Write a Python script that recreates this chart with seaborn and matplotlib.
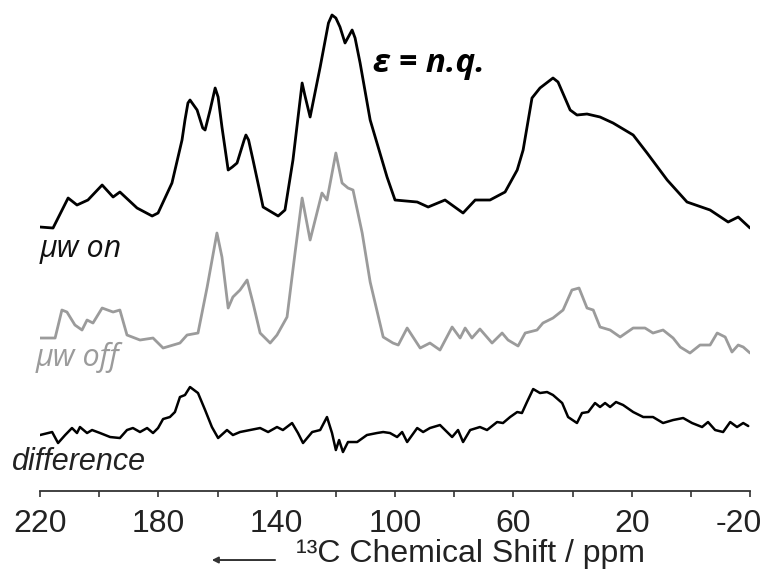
# Stacked 13C DNP spectra: microwave on / off / difference
import numpy as np
import matplotlib
matplotlib.use("Agg")
import matplotlib.pyplot as plt
import matplotlib.transforms as mtransforms
from matplotlib.ticker import MultipleLocator
import seaborn as sns

# ---- data (ppm, intensity above each trace's baseline) ----
on_ppm = [220.0, 215.6, 210.5, 207.5, 203.8, 199.0, 195.3, 193.0, 187.2, 182.1,
          180.1, 175.4, 172.0, 171.0, 170.0, 169.3, 166.9, 165.0, 164.2, 162.5,
          160.8, 159.8, 158.5, 156.4, 155.0, 153.4, 151.0, 150.4, 149.5, 148.0,
          145.6, 144.6, 139.5, 137.2, 134.5, 131.4, 130.5, 128.7, 125.3, 122.5,
          121.3, 120.0, 118.6, 116.9, 114.5, 113.5, 111.8, 108.4, 102.7, 100.0,
          92.5, 88.8, 83.1, 77.0, 72.9, 67.9, 62.8, 58.7, 56.7, 53.7, 51.0,
          46.6, 44.9, 40.8, 38.5, 35.1, 30.7, 26.3, 19.5, 14.8, 8.0, 1.3,
          -6.5, -12.6, -16.0, -20.0]
on_int = [1, 0, 30, 23, 28, 43, 31, 36, 20, 12,
          15, 45, 88, 108, 125, 128, 118, 100, 98, 118,
          140, 131, 101, 58, 61, 65, 88, 93, 88, 68,
          35, 21, 12, 18, 68, 145, 133, 111, 161, 205,
          213, 210, 201, 185, 198, 190, 165, 108, 51, 28,
          26, 21, 28, 15, 28, 28, 36, 58, 78, 130, 140,
          150, 146, 118, 113, 114, 111, 105, 93, 75, 48, 26,
          18, 6, 11, 0]

off_ppm = [220.0, 214.9, 212.6, 210.9, 208.2, 205.8, 204.1, 202.1, 199.0, 195.3,
           193.0, 190.6, 186.2, 181.8, 178.4, 172.7, 170.3, 166.6, 163.5, 160.2,
           158.5, 156.4, 154.8, 152.4, 150.0, 148.0, 145.6, 142.2, 139.9, 136.5,
           133.8, 131.4, 128.7, 124.7, 123.0, 120.0, 117.9, 115.9, 114.2, 111.1,
           108.4, 104.0, 100.7, 98.9, 95.9, 91.5, 88.2, 84.8, 80.7, 78.0, 76.3,
           74.0, 71.3, 67.2, 63.8, 61.8, 58.4, 56.0, 52.0, 50.0, 46.6, 43.2,
           40.2, 37.8, 35.1, 33.0, 30.7, 27.3, 23.9, 19.5, 15.5, 12.8, 9.4, 6.0,
           3.6, 0.3, -3.1, -6.5, -8.9, -11.6, -13.9, -16.0, -17.7, -20.0]
off_int = [12, 12, 40, 38, 25, 20, 30, 27, 42, 38,
           40, 15, 10, 12, 2, 7, 15, 17, 63, 117,
           93, 42, 53, 60, 70, 47, 17, 7, 15, 33,
           97, 152, 110, 157, 150, 197, 167, 162, 160, 117,
           68, 13, 7, 5, 22, 2, 7, 0, 23, 12, 22,
           12, 21, 7, 17, 10, 4, 17, 20, 27, 32, 40,
           60, 62, 42, 40, 23, 20, 13, 22, 22, 17, 20, 12,
           3, -3, 5, 5, 17, 13, -2, 5, 3, -3]

diff_ppm = [220.0, 215.9, 213.9, 211.5, 209.2, 207.5, 206.5, 204.1, 202.4, 199.7,
            196.3, 193.0, 190.6, 188.6, 186.2, 183.8, 181.8, 180.1, 178.4, 176.1,
            174.4, 172.7, 171.0, 169.3, 166.6, 164.2, 161.9, 159.8, 156.8, 154.8,
            152.4, 149.0, 145.6, 142.9, 139.9, 137.9, 134.8, 132.8, 131.1, 128.0,
            125.3, 123.0, 121.3, 120.0, 118.9, 117.6, 115.9, 112.8, 109.5, 106.1,
            104.0, 101.7, 99.3, 97.6, 95.9, 92.5, 90.5, 88.2, 84.8, 82.4, 80.7,
            78.7, 77.0, 74.6, 71.3, 68.9, 65.5, 63.5, 61.1, 58.7, 57.1, 55.4,
            53.3, 51.0, 48.6, 46.6, 43.5, 41.5, 38.5, 36.8, 34.7, 32.4, 30.7,
            29.0, 27.3, 25.3, 22.9, 19.5, 16.1, 12.8, 9.4, 6.0, 2.6, -0.4,
            -3.8, -5.8, -8.2, -10.9, -13.3, -15.6, -17.7, -19.4]
diff_int = [0, 3, -8, 0, 7, 2, 8, 2, 5, 2,
            -2, -3, 5, 7, 3, 7, 2, 7, 16, 18,
            23, 38, 40, 48, 42, 25, 8, -3, 5, 0,
            3, 5, 7, 3, 8, 5, 12, 2, -8, 3,
            5, 18, 2, -15, -5, -17, -7, -7, 0, 2,
            3, 2, -2, 3, -7, 7, 3, 7, 10, 3, -2,
            5, -7, 5, 8, 5, 13, 12, 18, 23, 22, 33,
            46, 42, 43, 40, 32, 18, 12, 22, 23, 32, 28,
            32, 28, 33, 30, 23, 18, 18, 12, 15, 17, 12,
            8, 13, 5, 3, 13, 8, 12, 9]

tick_values = [220, 180, 140, 100, 60, 20, -20]

# vertical stacking of the three traces
OFFSET_ON, OFFSET_OFF, OFFSET_DIFF = 207, 85, 0

sns.set_style("white")
plt.rcParams["font.family"] = ["Liberation Sans", "DejaVu Sans"]

fig = plt.figure(figsize=(7.71, 5.80), dpi=100)
ax = fig.add_axes([0.0519, 0.1534, 0.9209, 0.8466])

sns.lineplot(x=on_ppm, y=np.array(on_int) + OFFSET_ON, ax=ax, color="black",
             lw=2.0, sort=False)
sns.lineplot(x=off_ppm, y=np.array(off_int) + OFFSET_OFF, ax=ax, color="#9b9b9b",
             lw=2.0, sort=False)
sns.lineplot(x=diff_ppm, y=np.array(diff_int) + OFFSET_DIFF, ax=ax, color="black",
             lw=1.8, sort=False)

ax.set_xlim(220, -20)
ax.set_ylim(-56, 435)

# axis: only the bottom spine, ticks every 20, labels every 40
sns.despine(ax=ax, left=True)
ax.spines["bottom"].set_color("#333333")
ax.spines["bottom"].set_linewidth(1.3)
ax.set_yticks([])
ax.set_xticks(tick_values)
ax.set_xticklabels([str(v) for v in tick_values])
ax.xaxis.set_minor_locator(MultipleLocator(20))
ax.tick_params(axis="x", which="both", bottom=True, direction="out", length=4,
               width=1.2, color="#333333", pad=9, labelsize=23,
               labelcolor="#222222")
ax.set_ylabel("")

# keep the last label ("-20") inside the canvas, as in the reference
last = ax.get_xticklabels()[-1]
last.set_transform(last.get_transform() +
                   mtransforms.ScaledTranslation(-8 / 72, 0, fig.dpi_scale_trans))

ax.set_xlabel("\u00b9\u00b3C Chemical Shift / ppm", fontsize=23, color="#222222",
              va="center")
ax.xaxis.set_label_coords(0.606, -0.128)
ax.annotate("", xy=(0.238, -0.1405), xytext=(0.335, -0.1405),
            xycoords="axes fraction", annotation_clip=False,
            arrowprops=dict(arrowstyle="-|>", color="#333333", lw=1.4,
                            mutation_scale=9))

# trace labels
ax.text(220, 178, "\u03bcw on", fontsize=22, style="italic", color="#111111",
        ha="left", va="baseline", family=["Open Sans", "DejaVu Sans"])
ax.text(221.5, 69, "\u03bcw off", fontsize=22, style="italic", color="#9b9b9b",
        ha="left", va="baseline", family=["Open Sans", "DejaVu Sans"])
ax.text(229.5, -35, "difference", fontsize=22, style="italic", color="#222222",
        ha="left", va="baseline")
ax.text(107.4, 363, "\u03b5 = n.q.", fontsize=24, style="italic", weight="bold",
        color="black", ha="left", va="baseline", family=["Open Sans", "DejaVu Sans"])

fig.savefig("out.png", dpi=100)
